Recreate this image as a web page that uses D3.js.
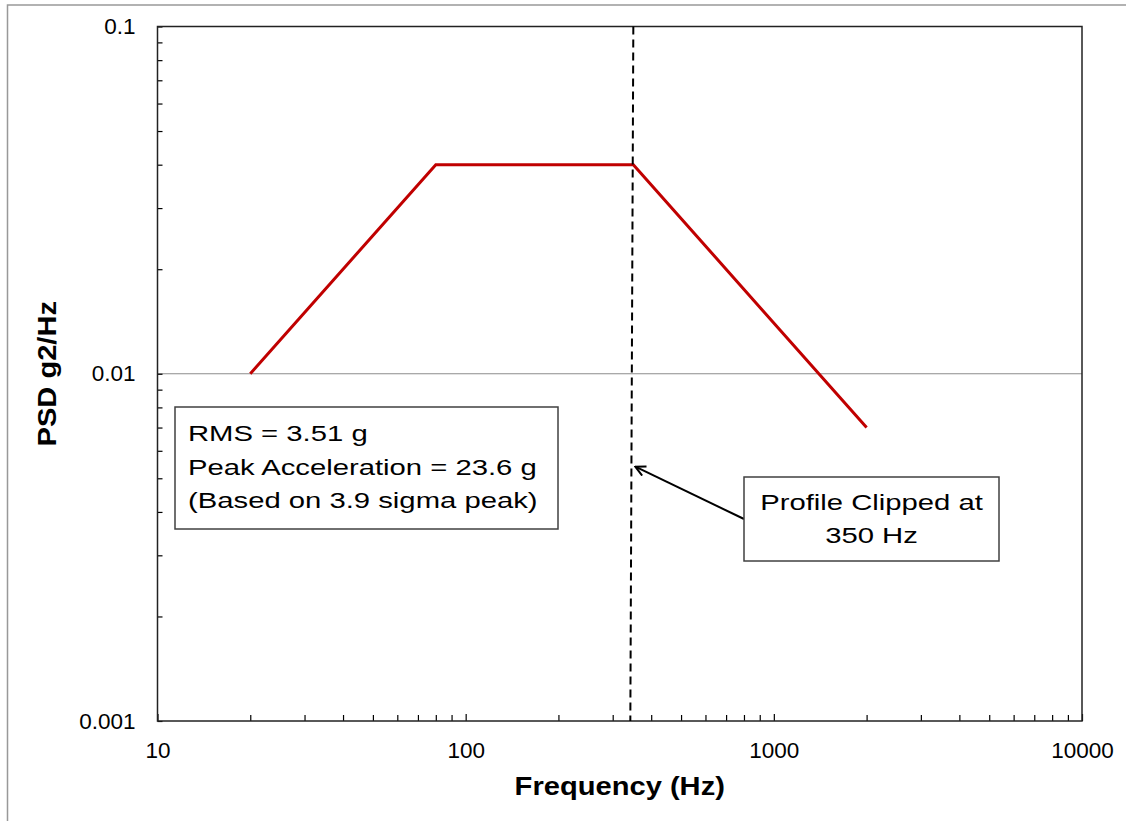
<!DOCTYPE html>
<html>
<head>
<meta charset="utf-8">
<script src="https://cdn.jsdelivr.net/npm/d3@7"></script>
<style>
  body { margin: 0; background: #fff; }
  svg { display: block; font-family: "Liberation Sans", Arial, sans-serif; }
</style>
</head>
<body>
<script>
// PSD profile points
var freq = [20, 80, 350, 2000];
var psd = [0.01, 0.04, 0.04, 0.007];

var xTicks = [10, 100, 1000, 10000];
var yTicks = [0.001, 0.01, 0.1];
var clipFreq = 350;

var infoLines = ["RMS = 3.51 g", "Peak Acceleration = 23.6 g", "(Based on 3.9 sigma peak)"];
var clipLines = ["Profile Clipped at", "350 Hz"];

var W = 1126, H = 821;
var plot = { left: 157.5, right: 1082, top: 26.5, bottom: 721 };

var svg = d3.select("body").append("svg")
    .attr("width", W)
    .attr("height", H);

// outer frame (only top & left visible)
svg.append("path")
  .attr("d", "M7.5,821 V5 H1126")
  .attr("fill", "none")
  .attr("stroke", "#999")
  .attr("stroke-width", 1.5);

var x = d3.scaleLog().domain([10, 10000]).range([plot.left, plot.right]);
var y = d3.scaleLog().domain([0.001, 0.1]).range([plot.bottom, plot.top]);

var isMajor = function(v) { return Math.abs(Math.log10(v) - Math.round(Math.log10(v))) < 1e-9; };

// gridline at 0.01
svg.append("g")
  .selectAll("line")
  .data(yTicks.filter(function(d) { return d > 0.001 && d < 0.1; }))
  .enter()
  .append("line")
  .attr("x1", plot.left).attr("x2", plot.right)
  .attr("y1", function(d) { return y(d); })
  .attr("y2", function(d) { return y(d); })
  .attr("stroke", "#8c8c8c")
  .attr("stroke-width", 1);

// x axis (ticks inside)
var xAxis = d3.axisBottom(x)
  .tickValues(x.ticks())
  .tickSize(-6)
  .tickPadding(21)
  .tickFormat(function(d) { return xTicks.indexOf(d) >= 0 ? String(d) : ""; });

var gx = svg.append("g")
  .attr("transform", "translate(0," + plot.bottom + ")")
  .call(xAxis);
gx.select(".domain").remove();
gx.selectAll(".tick line")
  .attr("stroke", "#000")
  .attr("stroke-width", 1.2)
  .attr("y2", function(d) { return isMajor(d) ? -7 : -6; });
gx.selectAll(".tick text")
  .attr("fill", "#000")
  .style("font-size", "22.5px");

// y axis (ticks inside)
var yAxis = d3.axisLeft(y)
  .tickValues(y.ticks())
  .tickSize(-5)
  .tickPadding(22)
  .tickFormat(function(d) { return yTicks.indexOf(d) >= 0 ? String(d) : ""; });

var gy = svg.append("g")
  .attr("transform", "translate(" + plot.left + ",0)")
  .call(yAxis);
gy.select(".domain").remove();
gy.selectAll(".tick line")
  .attr("stroke", "#000")
  .attr("stroke-width", 1.2);
gy.selectAll(".tick text")
  .attr("fill", "#000")
  .style("font-size", "22.5px");

// plot border
svg.append("rect")
  .attr("x", plot.left).attr("y", plot.top)
  .attr("width", plot.right - plot.left)
  .attr("height", plot.bottom - plot.top)
  .attr("fill", "none")
  .attr("stroke", "#222")
  .attr("stroke-width", 1.5);

// PSD line
var line = d3.line()
  .x(function(d, i) { return x(freq[i]); })
  .y(function(d, i) { return y(psd[i]); });

svg.append("path")
  .datum(freq)
  .attr("d", line)
  .attr("fill", "none")
  .attr("stroke", "#c00000")
  .attr("stroke-width", 3);

// clip line
svg.append("line")
  .attr("x1", x(clipFreq)).attr("x2", x(clipFreq) - 3)
  .attr("y1", plot.top).attr("y2", plot.bottom)
  .attr("stroke", "#000")
  .attr("stroke-width", 2)
  .attr("stroke-dasharray", "8,5");

// axis titles (text in the original is slightly wide)
svg.append("text")
  .attr("transform", "translate(" + ((plot.left + plot.right) / 2) + ",795) scale(1.12,1)")
  .attr("text-anchor", "middle")
  .style("font-size", "26px")
  .style("font-weight", "bold")
  .text("Frequency (Hz)");

svg.append("text")
  .attr("transform", "translate(55.5," + ((plot.top + plot.bottom) / 2) + ") rotate(-90) scale(1.12,1)")
  .attr("text-anchor", "middle")
  .style("font-size", "26px")
  .style("font-weight", "bold")
  .text("PSD g2/Hz");

// info box
var box1 = svg.append("g");
box1.append("rect")
  .attr("x", 175).attr("y", 407)
  .attr("width", 383).attr("height", 122)
  .attr("fill", "#fff")
  .attr("stroke", "#404040")
  .attr("stroke-width", 1.5);
box1.selectAll("text")
  .data(infoLines)
  .enter()
  .append("text")
  .attr("transform", function(d, i) { return "translate(188," + (441 + i * 33.5) + ") scale(1.33,1)"; })
  .style("font-size", "22px")
  .text(function(d) { return d; });

// arrow
svg.append("defs").append("marker")
  .attr("id", "arrow")
  .attr("viewBox", "0 0 12 12")
  .attr("refX", 11).attr("refY", 6)
  .attr("markerWidth", 12).attr("markerHeight", 12)
  .attr("markerUnits", "userSpaceOnUse")
  .attr("orient", "auto")
  .append("path")
  .attr("d", "M1,1 L11,6 L1,11")
  .attr("fill", "none")
  .attr("stroke", "#000")
  .attr("stroke-width", 2);

svg.append("line")
  .attr("x1", 744).attr("y1", 519)
  .attr("x2", x(clipFreq) + 2).attr("y2", y(0.0054))
  .attr("stroke", "#000")
  .attr("stroke-width", 2)
  .attr("marker-end", "url(#arrow)");

// clip box
var box2 = svg.append("g");
box2.append("rect")
  .attr("x", 744).attr("y", 477)
  .attr("width", 255).attr("height", 84)
  .attr("fill", "#fff")
  .attr("stroke", "#404040")
  .attr("stroke-width", 1.5);
box2.selectAll("text")
  .data(clipLines)
  .enter()
  .append("text")
  .attr("transform", function(d, i) { return "translate(871.5," + (510 + i * 33) + ") scale(1.33,1)"; })
  .attr("text-anchor", "middle")
  .style("font-size", "22px")
  .text(function(d) { return d; });
</script>
</body>
</html>
